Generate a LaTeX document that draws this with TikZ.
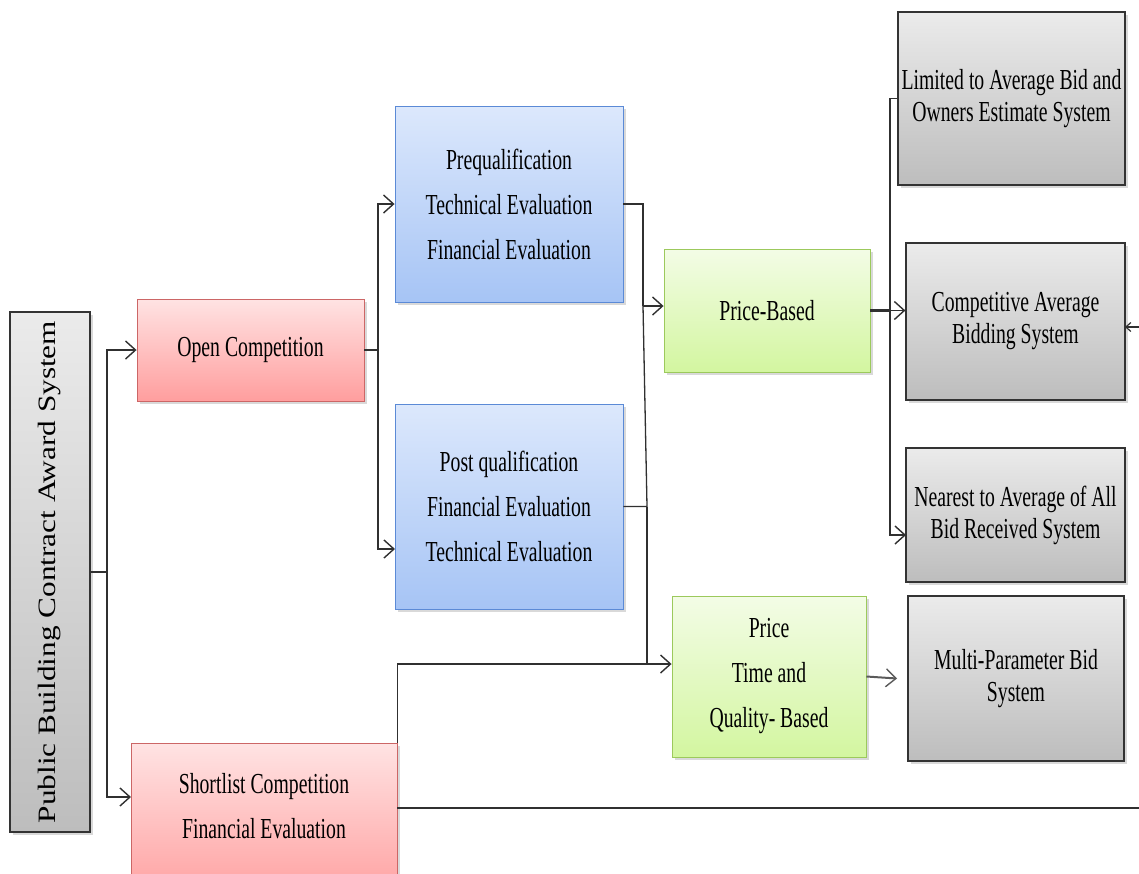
\documentclass[tikz,border=0pt]{standalone}
\usepackage{fontspec}
\setmainfont{Liberation Serif}
\newfontfamily\condfont[FakeStretch=0.68]{Liberation Serif}
\newfontfamily\widefont[FakeStretch=1.25]{Liberation Serif}
\usetikzlibrary{arrows.meta,shadows,calc}
\definecolor{redtop}{HTML}{FFE3E3}
\definecolor{redbot}{HTML}{FF9E9E}
\definecolor{redline}{HTML}{CC6666}
\definecolor{bluetop}{HTML}{DCE8FC}
\definecolor{bluebot}{HTML}{A6C4F5}
\definecolor{blueline}{HTML}{5B8AD6}
\definecolor{greentop}{HTML}{F3FCE6}
\definecolor{greenbot}{HTML}{D3F6A0}
\definecolor{greenline}{HTML}{9CC95C}
\definecolor{graytop}{HTML}{EBEBEB}
\definecolor{graybot}{HTML}{BDBDBD}
\definecolor{grayline}{HTML}{333333}
\definecolor{conncol}{HTML}{303030}
\definecolor{midgray}{HTML}{5A5A5A}
\tikzset{
  box/.style={rectangle, inner sep=0pt, align=center,
    font=\condfont\fontsize{29}{45}\selectfont,
    drop shadow={shadow xshift=3pt,shadow yshift=-3pt,opacity=0.3}},
  redbox/.style={box, draw=redline, line width=0.9pt, top color=redtop, bottom color=redbot},
  bluebox/.style={box, draw=blueline, line width=0.9pt, top color=bluetop, bottom color=bluebot},
  greenbox/.style={box, draw=greenline, line width=0.9pt, top color=greentop, bottom color=greenbot},
  graybox/.style={box, draw=grayline, line width=1.2pt, top color=graytop, bottom color=graybot,
    font=\condfont\fontsize{29}{32}\selectfont},
  conn/.style={draw=conncol, line width=1.3pt},
  arr/.style={conn, -{Straight Barb[length=10pt,width=18pt,line width=1.4pt]}},
  smallarr/.style={conn, -{Straight Barb[length=5pt,width=9pt,line width=1.2pt]}},
  plain/.style={inner sep=0pt, align=center, font=\condfont\fontsize{29}{45}\selectfont},
}
\begin{document}
\begin{tikzpicture}[x=1pt,y=-1pt]
\useasboundingbox (0,0) rectangle (1139,873);
\clip (0,0) rectangle (1139,873);
% nodes
\node[graybox, rotate=90, minimum width=520pt, minimum height=80pt,
  font=\widefont\fontsize{25}{30}\selectfont] (root) at (50,572) {Public Building Contract Award System};
\node[redbox, minimum width=227pt, minimum height=102pt] (open) at (250.5,350) {Open Competition};
\node[redbox, minimum width=266pt, minimum height=160pt] (shortlist) at (264,823) {};
\node[plain] (shortlisttext) at (264,806) {Shortlist Competition\\Financial Evaluation};
\node[bluebox, minimum width=228pt, minimum height=196pt] (pre) at (509,204) {Prequalification\\Technical Evaluation\\Financial Evaluation};
\node[bluebox, minimum width=228pt, minimum height=205pt] (post) at (509,506.5) {Post qualification\\Financial Evaluation\\Technical Evaluation};
\node[greenbox, minimum width=206pt, minimum height=123pt] (price) at (767,310.5) {Price-Based};
\node[greenbox, minimum width=194pt, minimum height=161pt] (ptq) at (769,676.5) {Price\\Time and\\Quality- Based};
\node[graybox, minimum width=227pt, minimum height=173pt] (limited) at (1011.5,98.5) {Limited to Average Bid and\\Owners Estimate System};
\node[graybox, minimum width=219pt, minimum height=157pt] (compet) at (1015.5,321.5) {Competitive Average\\Bidding System};
\node[graybox, minimum width=219pt, minimum height=134pt] (nearest) at (1015.5,515) {Nearest to Average of All\\Bid Received System};
\node[graybox, minimum width=216pt, minimum height=165pt] (multi) at (1016,678.5) {Multi-Parameter Bid\\System};
% junction coordinates
\coordinate (j1) at (107,572);
\coordinate (slin) at (131,797);
\coordinate (j2) at (378,350);
\coordinate (postin) at (395,549);
\coordinate (j3) at (643,306);
\coordinate (j4) at (647,506.5);
\coordinate (j5) at (647,664);
\coordinate (slout) at (397,808);
\coordinate (far1) at (1142,808);
\coordinate (far2) at (1142,327);
\coordinate (cin) at (1125,327);
\coordinate (j6) at (890,310.5);
\coordinate (nin) at (906,535);
\coordinate (multiin) at (897,678.5);
% connectors
\draw[conn] (root.south) -- (j1);
\draw[arr] (j1) |- (open.west);
\draw[arr] (j1) |- (slin);
\draw[conn] (open.east) -- (j2);
\draw[arr] (j2) |- (pre.west);
\draw[arr] (j2) |- (postin);
\draw[conn] (pre.east) -| (j3);
\draw[arr] (j3) -- (price.west |- j3);
\draw[conn] (post.east) -- (j4) -- (j3);
\draw[arr] (j4) -- (j5) -- (ptq.west |- j5);
\draw[conn] (shortlist.north east) -- (shortlist.north east |- j5) -- (j5);
\draw[conn] (slout) -- (far1) -- (far2);
\draw[smallarr] (far2) -- (cin);
\draw[conn, line width=2.2pt] (price.east) -- (j6);
\draw[arr] (j6) -- (compet.west |- j6);
\draw[conn] (j6) |- (limited.west);
\draw[arr] (j6) |- (nin);
\draw[arr, draw=midgray, line width=2pt] (ptq.east) -- (multiin);
\end{tikzpicture}
\end{document}
